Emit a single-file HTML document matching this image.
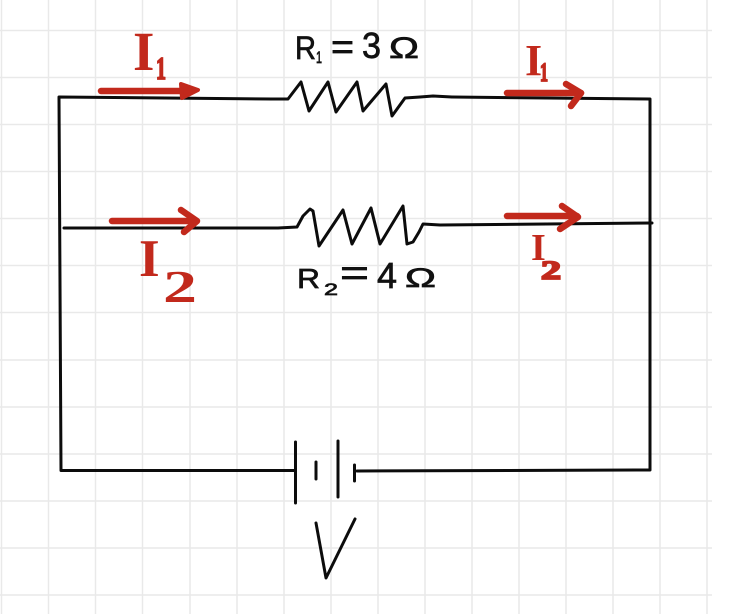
<!DOCTYPE html>
<html><head><meta charset="utf-8"><style>
html,body{margin:0;padding:0;background:#fff;width:732px;height:614px;overflow:hidden}
svg{display:block}
.g line{stroke:#e9e9e9;stroke-width:1.5}
.k{fill:none;stroke:#0c0c0c;stroke-width:3;stroke-linecap:round;stroke-linejoin:round}
.r{fill:none;stroke:#c2291c;stroke-width:6.5;stroke-linecap:round;stroke-linejoin:round}
.rf{fill:#c2291c;stroke:#c2291c;stroke-width:4;stroke-linejoin:round}
.lab{font-family:"Liberation Sans",sans-serif;fill:#111;stroke:#111;stroke-width:.7}
.red{font-family:"Liberation Serif",serif;font-weight:bold;fill:#c2291c}
.sub{stroke:#c2291c;stroke-width:1.8}
</style></head><body>
<svg width="732" height="614" viewBox="0 0 732 614" xmlns="http://www.w3.org/2000/svg">
<g class="g">
<line x1="1.500" y1="0" x2="1.500" y2="614"/><line x1="48.500" y1="0" x2="48.500" y2="614"/><line x1="95.500" y1="0" x2="95.500" y2="614"/><line x1="142.500" y1="0" x2="142.500" y2="614"/><line x1="190" y1="0" x2="190" y2="614"/><line x1="237" y1="0" x2="237" y2="614"/><line x1="284" y1="0" x2="284" y2="614"/><line x1="331" y1="0" x2="331" y2="614"/><line x1="378" y1="0" x2="378" y2="614"/><line x1="425" y1="0" x2="425" y2="614"/><line x1="472" y1="0" x2="472" y2="614"/><line x1="519" y1="0" x2="519" y2="614"/><line x1="566" y1="0" x2="566" y2="614"/><line x1="613" y1="0" x2="613" y2="614"/><line x1="660" y1="0" x2="660" y2="614"/><line x1="707" y1="0" x2="707" y2="614"/>
<line x1="0" y1="30.500" x2="712" y2="30.500"/><line x1="0" y1="77.500" x2="712" y2="77.500"/><line x1="0" y1="124.500" x2="712" y2="124.500"/><line x1="0" y1="171.500" x2="712" y2="171.500"/><line x1="0" y1="218.500" x2="712" y2="218.500"/><line x1="0" y1="265.500" x2="712" y2="265.500"/><line x1="0" y1="312.500" x2="712" y2="312.500"/><line x1="0" y1="360" x2="712" y2="360"/><line x1="0" y1="407" x2="712" y2="407"/><line x1="0" y1="454" x2="712" y2="454"/><line x1="0" y1="501" x2="712" y2="501"/><line x1="0" y1="548" x2="712" y2="548"/><line x1="0" y1="595" x2="712" y2="595"/>
</g>
<rect x="712" y="0" width="20" height="614" fill="#fff"/>

<!-- outer circuit -->
<path class="k" d="M272 99 L59 97 L61 470.500 L294 470.500"/>
<path class="k" d="M357 471 L650 470 L650 99 L452 97"/>
<path class="k" d="M272 99 L282 99 L288 99 L301 82 L309 111 L328 82 L336 112 L357 82 L363 111 L386 84 L392 116 L405 98 L420 97 L433 96 L452 97"/>
<!-- middle branch -->
<path class="k" d="M64 228 L278 228 L297 227 L303 216 L310 209 L313 211 L319 246 L343 210 L352 244 L371 208 L380 244 L403 206 L407 244 L413 242 L419 232 L423 224 L440 225 L652 223"/>
<!-- battery -->
<path class="k" d="M295.500 442 V503"/>
<path class="k" d="M316 462 V479"/>
<path class="k" d="M338 441 V497"/>
<path class="k" d="M354.500 465 V481"/>
<!-- V -->
<path class="k" d="M316 523 L326 578 L355 519"/>

<!-- red arrows -->
<path class="r" d="M101 91 L190 91"/><path class="rf" d="M181 84 L198 90 L182 98 Z"/>
<path class="r" d="M112 221 L196 221"/><path class="r" d="M181 210 L197 221 L184 232"/>
<path class="r" d="M507 93 L581 93"/><path class="r" d="M566 84 L581 93 L571 106"/>
<path class="r" d="M507 216 L577 216"/><path class="r" d="M562 206 L578 217 L560 229"/>

<!-- labels -->
<text class="lab" x="295" y="59" font-size="32" textLength="21" lengthAdjust="spacingAndGlyphs">R</text>
<text class="lab" x="316" y="63" font-size="17" textLength="6" lengthAdjust="spacingAndGlyphs">1</text>
<text class="lab" x="331" y="59" font-size="36" textLength="23" lengthAdjust="spacingAndGlyphs">=</text>
<text class="lab" x="362" y="58" font-size="36" textLength="19" lengthAdjust="spacingAndGlyphs">3</text>
<text class="lab" x="389" y="58" font-size="30" textLength="30" lengthAdjust="spacingAndGlyphs">Ω</text>

<text class="lab" x="297" y="288" font-size="28" textLength="23" lengthAdjust="spacingAndGlyphs">R</text>
<text class="lab" x="324" y="295" font-size="17" textLength="14" lengthAdjust="spacingAndGlyphs">2</text>
<text class="lab" x="340" y="285" font-size="36" textLength="29" lengthAdjust="spacingAndGlyphs">=</text>
<text class="lab" x="377" y="288" font-size="36">4</text>
<text class="lab" x="405" y="287" font-size="27" textLength="31" lengthAdjust="spacingAndGlyphs">Ω</text>

<text class="red" x="133" y="70" font-size="55">I</text>
<text class="red sub" x="156" y="79" font-size="32" textLength="10" lengthAdjust="spacingAndGlyphs">1</text>
<text class="red" x="139" y="276" font-size="53">I</text>
<text class="red" x="163" y="302" font-size="46" textLength="34" lengthAdjust="spacingAndGlyphs">2</text>
<text class="red" x="525" y="75" font-size="44">I</text>
<text class="red sub" x="540" y="81" font-size="26" textLength="8" lengthAdjust="spacingAndGlyphs">1</text>
<text class="red" x="531" y="260" font-size="38">I</text>
<text class="red sub" x="541" y="279" font-size="26" textLength="20" lengthAdjust="spacingAndGlyphs">2</text>
</svg>
</body></html>
